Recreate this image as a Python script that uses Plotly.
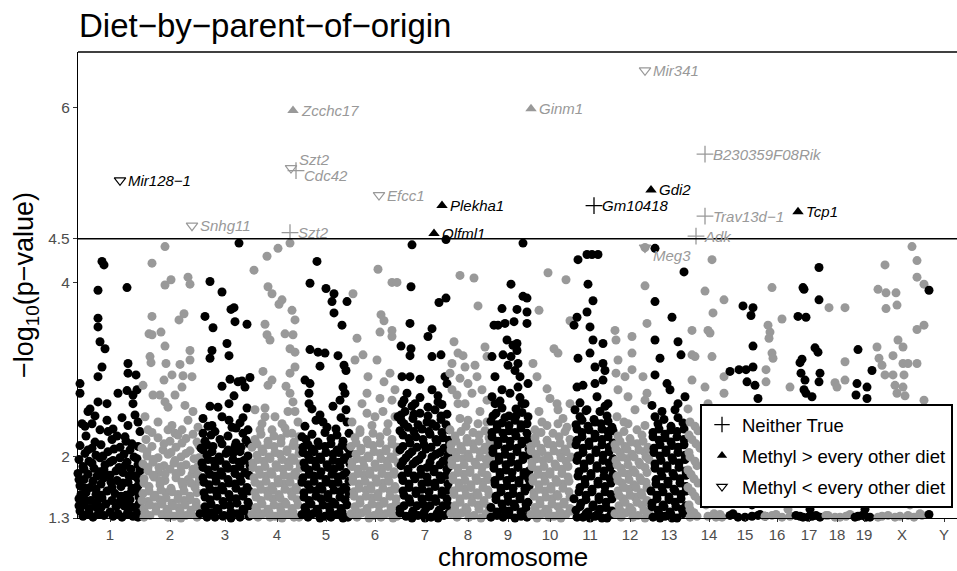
import plotly.graph_objects as go

# ---------------- data ----------------
chrom_labels = ["1", "2", "3", "4", "5", "6", "7", "8", "9", "10", "11", "12",
                "13", "14", "15", "16", "17", "18", "19", "X", "Y"]
# cumulative genome position (plot units) of each chromosome label
chrom_ticks = [110, 170, 225, 277, 326, 375, 425, 468, 508, 550, 590, 630,
               669, 709, 745, 777, 809, 837, 864, 902, 944]

# (position, -log10 p) for every gene, per chromosome
chr_1 = [(102,4.24),(104,4.20),(98,3.91),(127,3.94),(98,3.59),(98,3.49),(100,3.32),(105,3.24),(102,3.03),(98,2.92),
         (128,3.07),(128,2.96),(136,2.94),(80,2.84),(80,2.73),(118,2.73),(127,2.76),(133,2.71),(137,2.77),(98,2.63),
         (107,2.61),(133,2.61),(88,2.52),(82,2.38),(92,2.38),(107,2.42),(135,2.48),(138,2.40),(100,2.31),(108,2.29),
         (117,2.24),(125,2.23),(140,2.29),(132,2.15),
         (80,2.13),(92,2.10),(101,2.14),(120,2.11),(130,2.08),(138,2.12),(85,2.04),(96,2.02),(108,2.06),(124,2.03),
         (134,2.00),(79,1.97),(89,1.95),(100,1.99),(113,1.96),(127,1.94),(137,1.98),(83,1.89),(94,1.87),(105,1.91),
         (119,1.88),(131,1.86),(78,1.81),(88,1.80),(99,1.83),(110,1.79),(123,1.82),(135,1.78),(140,1.84),(84,1.74),
         (93,1.72),(104,1.76),(117,1.73),(128,1.71),(138,1.75),(80,1.67),(90,1.65),(101,1.69),(121,1.66),(132,1.64),
         (86,1.59),(96,1.57),(107,1.61),(115,1.58),(126,1.56),(137,1.60),(79,1.52),(91,1.50),(102,1.53),(120,1.49),
         (130,1.51),(139,1.54),(84,1.45),(95,1.43),(106,1.46),(124,1.44),(134,1.42),(80,1.38),(89,1.36),(99,1.39),
         (110,1.37),(118,1.35),(128,1.38),(138,1.36),(83,1.32),(93,1.31),(104,1.33),(122,1.31),(133,1.32),
         (86,2.24),(112,2.20),(95,2.17),(126,2.18),(88,2.08),(114,2.09),(103,2.01),(120,1.99),(92,1.93),(110,1.94),
         (125,1.90),(138,1.91),(84,1.86),(104,1.85),(116,1.84),(129,1.78),(97,1.78),(79,1.74),(111,1.71),(123,1.70),
         (85,1.64),(96,1.63),(112,1.65),(138,1.67),(81,1.57),(101,1.56),(121,1.55),(131,1.59),(86,1.50),(97,1.48),
         (112,1.50),(126,1.48),(79,1.44),(89,1.41),(101,1.42),(116,1.43),(129,1.45),(139,1.46),(87,1.34),(98,1.34),
         (113,1.32),(127,1.34),(138,1.31),(85,2.35),(113,2.32),(122,2.45),(90,2.55),(128,2.36),(95,2.47)]
chr_2 = [(165,4.41),(152,4.22),(165,3.97),(171,4.03),(188,4.06),(190,3.98),(152,3.61),(179,3.57),(184,3.64),(149,3.41),
         (152,3.40),(161,3.43),(165,3.27),(150,3.15),(151,3.08),(166,3.07),(180,3.06),(190,3.22),(190,3.11),(172,2.94),
         (164,2.88),(183,2.93),(192,2.92),(143,2.82),(153,2.71),(160,2.71),(175,2.71),(182,2.80),(165,2.63),(168,2.57),
         (185,2.59),(193,2.52),(198,2.34),(145,2.46),(148,2.31),(168,2.31),(175,2.27),(182,2.31),
         (146,2.20),(158,2.22),(170,2.18),(186,2.21),(197,2.17),(142,2.10),(152,2.12),(163,2.08),(176,2.11),(190,2.07),
         (199,2.13),(147,2.01),(158,1.99),(168,2.03),(181,2.00),(194,1.98),(143,1.92),(153,1.94),(164,1.90),(174,1.93),
         (186,1.91),(198,1.89),(148,1.84),(159,1.82),(170,1.86),(181,1.83),(192,1.80),(144,1.75),(154,1.77),(165,1.73),
         (176,1.76),(188,1.74),(199,1.72),(149,1.66),(160,1.68),(171,1.64),(183,1.67),(195,1.65),(143,1.58),(155,1.56),
         (166,1.59),(178,1.57),(190,1.55),(148,1.49),(160,1.51),(172,1.47),(184,1.50),(196,1.48),(144,1.41),(156,1.43),
         (167,1.40),(179,1.42),(191,1.39),(199,1.41),(150,1.33),(162,1.34),(174,1.32),(186,1.33),(197,1.31),
         (152,2.28),(178,2.25),(193,2.26),(164,2.15),(182,2.16),(147,2.06),(171,2.05),(186,2.04),(153,1.97),(175,1.96),
         (199,1.99),(148,1.88),(159,1.88),(181,1.89),(193,1.86),(153,1.79),(165,1.80),(176,1.81),(198,1.79),(144,1.70),
         (160,1.72),(182,1.71),(191,1.70),(149,1.61),(161,1.62),(172,1.60),(184,1.61),(197,1.59),(154,1.54),(166,1.53),
         (178,1.52),(190,1.51),(142,1.50),(150,1.45),(162,1.46),(173,1.44),(185,1.45),(196,1.43),(145,1.36),(156,1.38),
         (168,1.37),(180,1.38),(191,1.35),(144,1.31),(168,1.31),(181,1.30),(158,2.40),(188,2.42),(172,2.36)]
chr_3 = [(239,4.45),(210,4.01),(222,3.89),(231,3.69),(234,3.71),(205,3.61),(213,3.48),(235,3.55),(247,3.52),(212,3.22),
         (210,3.13),(227,3.30),(229,3.16),(222,2.81),(230,2.89),(238,2.86),(242,2.87),(250,2.91),(234,2.70),(245,2.80),
         (229,2.61),(210,2.58),(218,2.57),(247,2.56),(203,2.44),(212,2.36),(222,2.46),(229,2.42),(232,2.34),(240,2.39),
         (248,2.31),(203,2.27),(215,2.29),(203,2.08),
         (205,2.18),(220,2.20),(236,2.16),(246,2.19),(201,2.10),(213,2.12),(228,2.08),(241,2.11),(207,2.02),(219,2.00),
         (233,2.04),(248,2.01),(202,1.93),(214,1.95),(226,1.91),(239,1.94),(250,1.90),(208,1.85),(221,1.83),(234,1.86),
         (245,1.82),(203,1.76),(215,1.78),(228,1.74),(240,1.77),(209,1.68),(222,1.66),(235,1.69),(247,1.65),(204,1.59),
         (216,1.61),(229,1.57),(242,1.60),(210,1.51),(223,1.49),(236,1.52),(248,1.48),(205,1.43),(217,1.41),(230,1.44),
         (243,1.40),(200,1.35),(212,1.36),(224,1.33),(237,1.35),(249,1.32),(215,1.31),(231,1.30),
         (211,2.25),(228,2.24),(243,2.27),(207,2.14),(222,2.15),(235,2.12),(249,2.15),(212,2.06),(226,2.04),(240,2.06),
         (208,1.97),(220,1.96),(233,1.97),(244,1.96),(203,1.88),(215,1.89),(228,1.87),(240,1.89),(210,1.80),(222,1.79),
         (235,1.81),(249,1.79),(204,1.71),(216,1.72),(229,1.70),(241,1.72),(210,1.63),(223,1.62),(236,1.64),(249,1.61),
         (205,1.54),(217,1.55),(230,1.53),(243,1.55),(211,1.46),(224,1.45),(237,1.47),(249,1.44),(206,1.38),(218,1.39),
         (231,1.37),(244,1.38),(207,1.31),(223,1.32),(240,1.31),(208,2.35),(236,2.33),(243,2.45)]
chr_4 = [(290,4.45),(278,4.39),(267,4.30),(254,4.14),(268,3.95),(272,3.87),(282,3.80),(279,3.75),(292,3.68),(295,3.57),
         (265,3.52),(267,3.40),(270,3.34),(285,3.41),(293,3.40),(290,3.24),(295,3.20),(295,3.03),(290,2.96),(263,2.98),
         (268,2.82),(272,2.88),(286,2.81),(290,2.73),(293,2.63),(255,2.54),(265,2.56),(265,2.46),(275,2.46),(288,2.52),
         (295,2.52),(260,2.31),(272,2.31),(282,2.38),(292,2.27),
         (255,2.20),(268,2.18),(281,2.21),(294,2.17),(252,2.11),(262,2.09),(274,2.12),(287,2.08),(299,2.10),(257,2.02),
         (269,2.00),(280,2.03),(292,1.99),(253,1.93),(264,1.95),(276,1.91),(288,1.94),(300,1.92),(259,1.85),(271,1.83),
         (283,1.86),(295,1.82),(254,1.76),(266,1.78),(278,1.74),(290,1.77),(301,1.75),(260,1.68),(272,1.66),(284,1.69),
         (296,1.65),(255,1.59),(267,1.61),(279,1.57),(291,1.60),(261,1.50),(273,1.52),(285,1.48),(297,1.51),(256,1.42),
         (268,1.40),(280,1.43),(292,1.41),(252,1.34),(263,1.35),(275,1.32),(287,1.34),(299,1.31),
         (261,2.26),(274,2.24),(287,2.27),(299,2.23),(257,2.15),(268,2.14),(281,2.16),(293,2.13),(263,2.06),(275,2.05),
         (287,2.06),(299,2.04),(258,1.97),(270,1.98),(282,1.97),(294,1.96),(253,1.88),(265,1.89),(277,1.88),(289,1.89),
         (300,1.87),(260,1.80),(272,1.80),(284,1.79),(296,1.79),(255,1.71),(266,1.72),(278,1.70),(290,1.71),(261,1.63),
         (273,1.62),(285,1.63),(297,1.62),(256,1.54),(268,1.55),(280,1.53),(292,1.55),(262,1.46),(274,1.45),(286,1.46),
         (298,1.45),(257,1.38),(269,1.37),(281,1.38),(293,1.37),(258,1.31),(270,1.31),(282,1.30),(294,1.31),(262,2.38),
         (285,2.33),(298,2.40)]
chr_5 = [(317,4.24),(310,3.99),(326,3.93),(334,3.87),(332,3.78),(334,3.65),(347,3.78),(342,3.51),(310,3.23),(318,3.20),
         (325,3.19),(320,3.04),(338,3.16),(344,3.05),(346,2.99),(305,2.88),(310,2.84),(309,2.73),(309,2.61),(343,2.80),
         (345,2.73),(340,2.65),(346,2.54),(347,2.40),(320,2.48),(323,2.40),(327,2.34),(302,2.23),
         (306,2.20),(318,2.17),(331,2.21),(343,2.18),(303,2.11),(312,2.09),(325,2.12),(337,2.08),(348,2.10),(308,2.02),
         (320,2.00),(333,2.03),(345,1.99),(304,1.93),(315,1.95),(327,1.91),(339,1.94),(350,1.92),(309,1.85),(321,1.83),
         (334,1.86),(346,1.82),(303,1.76),(314,1.78),(326,1.74),(338,1.77),(308,1.68),(320,1.66),(332,1.69),(344,1.65),
         (304,1.59),(316,1.61),(328,1.57),(340,1.60),(349,1.58),(309,1.50),(321,1.52),(333,1.48),(345,1.51),(305,1.42),
         (317,1.40),(329,1.43),(341,1.41),(302,1.34),(313,1.35),(325,1.32),(337,1.34),(348,1.31),
         (312,2.26),(325,2.28),(337,2.25),(349,2.27),(308,2.14),(319,2.13),(331,2.15),(342,2.13),(303,2.05),(314,2.06),
         (326,2.05),(339,2.05),(350,2.04),(310,1.97),(321,1.97),(333,1.96),(344,1.97),(305,1.88),(316,1.89),(328,1.88),
         (340,1.89),(309,1.80),(320,1.79),(332,1.80),(343,1.79),(302,1.71),(314,1.72),(326,1.71),(338,1.71),(349,1.72),
         (310,1.63),(322,1.63),(334,1.62),(346,1.63),(304,1.54),(316,1.55),(328,1.53),(340,1.54),(311,1.46),(323,1.45),
         (335,1.46),(347,1.45),(306,1.38),(318,1.37),(330,1.38),(342,1.37),(308,1.31),(320,1.30),(331,1.31),(343,1.30),
         (305,2.35),(316,2.42),(336,2.32),(341,2.45),(312,2.55),(333,2.58)]
chr_6 = [(378,4.15),(392,4.00),(397,4.00),(353,3.87),(381,3.63),(384,3.56),(380,3.43),(392,3.45),(392,3.38),(357,3.36),
         (363,3.17),(355,3.11),(377,3.11),(390,2.96),(368,2.92),(384,2.86),(395,2.77),(367,2.73),(362,2.61),(380,2.67),
         (392,2.65),(367,2.50),(375,2.46),(383,2.52),(395,2.46),(360,2.31),
         (355,2.22),(367,2.19),(380,2.23),(392,2.20),(351,2.12),(361,2.10),(373,2.13),(386,2.09),(397,2.11),(356,2.03),
         (368,2.01),(380,2.04),(391,2.00),(352,1.94),(363,1.96),(375,1.92),(387,1.95),(398,1.93),(358,1.86),(370,1.84),
         (382,1.87),(394,1.83),(353,1.77),(364,1.79),(376,1.75),(388,1.78),(359,1.69),(371,1.67),(383,1.70),(395,1.66),
         (354,1.60),(366,1.62),(378,1.58),(390,1.61),(360,1.51),(372,1.53),(384,1.49),(396,1.52),(355,1.43),(367,1.41),
         (379,1.44),(391,1.42),(351,1.35),(362,1.36),(374,1.33),(386,1.35),(397,1.32),
         (360,2.28),(373,2.27),(387,2.29),(356,2.16),(368,2.15),(380,2.16),(392,2.15),(361,2.07),(374,2.06),(386,2.07),
         (397,2.06),(357,1.98),(369,1.99),(381,1.98),(393,1.98),(352,1.89),(364,1.89),(376,1.88),(388,1.89),(358,1.81),
         (370,1.80),(382,1.81),(394,1.80),(353,1.72),(365,1.72),(377,1.71),(389,1.72),(359,1.64),(371,1.63),(383,1.64),
         (395,1.63),(354,1.55),(366,1.55),(378,1.54),(390,1.55),(360,1.47),(372,1.46),(384,1.47),(396,1.46),(356,1.38),
         (367,1.38),(379,1.37),(391,1.38),(357,1.31),(369,1.30),(381,1.31),(393,1.30),(352,2.40),(372,2.36),(388,2.38)]
chr_7 = [(412,4.43),(446,4.49),(411,3.95),(439,3.77),(446,3.82),(410,3.53),(432,3.47),(428,3.38),(401,3.27),(410,3.16),
         (432,3.15),(441,3.17),(411,3.24),(402,2.92),(410,2.92),(420,2.89),(445,2.92),(432,2.77),(407,2.73),(402,2.61),
         (415,2.61),(438,2.63),(447,2.84),(398,2.46),
         (405,2.52),(420,2.50),(435,2.54),(447,2.49),(401,2.42),(413,2.44),(427,2.40),(441,2.43),(408,2.34),(422,2.32),
         (436,2.35),(449,2.31),(403,2.25),(416,2.23),(430,2.26),(443,2.22),(410,2.16),(424,2.14),(437,2.17),(449,2.13),
         (400,2.08),(412,2.06),(426,2.09),(440,2.05),(406,1.99),(419,1.97),(432,2.00),(445,1.96),(401,1.90),(413,1.92),
         (427,1.88),(440,1.91),(449,1.89),(408,1.82),(421,1.80),(434,1.83),(446,1.79),(403,1.73),(415,1.75),(428,1.71),
         (441,1.74),(409,1.65),(422,1.63),(435,1.66),(448,1.62),(404,1.56),(416,1.58),(429,1.54),(442,1.57),(410,1.48),
         (423,1.46),(436,1.49),(448,1.45),(400,1.40),(413,1.38),(426,1.41),(439,1.39),(406,1.32),(418,1.33),(431,1.31),
         (444,1.33),
         (412,2.58),(428,2.57),(442,2.60),(401,2.48),(414,2.49),(428,2.47),(441,2.47),(404,2.38),(418,2.37),(432,2.38),
         (446,2.37),(400,2.30),(414,2.29),(429,2.29),(442,2.28),(409,2.21),(423,2.20),(436,2.20),(449,2.19),(403,2.12),
         (417,2.11),(431,2.11),(444,2.10),(409,2.03),(422,2.02),(436,2.03),(448,2.02),(403,1.95),(416,1.95),(430,1.94),
         (443,1.95),(408,1.86),(421,1.86),(434,1.86),(447,1.86),(402,1.78),(414,1.78),(427,1.77),(440,1.78),(409,1.69),
         (422,1.69),(435,1.70),(448,1.69),(403,1.61),(416,1.61),(429,1.60),(442,1.61),(409,1.52),(422,1.52),(435,1.52),
         (447,1.52),(404,1.44),(417,1.44),(430,1.44),(443,1.44),(400,1.36),(412,1.35),(424,1.36),(437,1.35),(449,1.36),
         (412,1.30),(425,1.30),(438,1.30),(420,2.68),(438,2.70),(404,2.65)]
chr_8 = [(460,4.08),(474,4.05),(478,3.73),(454,3.32),(458,3.19),(463,3.16),(452,3.07),(465,3.03),(475,3.05),(487,3.15),
         (485,3.26),(450,2.96),(460,2.90),(468,2.84),(477,2.92),(452,2.77),(457,2.71),(472,2.73),(482,2.77),(458,2.61),
         (465,2.61),(487,2.65),(460,2.44),(468,2.42),(480,2.52),(487,2.40),(450,2.31),
         (455,2.24),(467,2.21),(479,2.25),(489,2.22),(451,2.14),(461,2.12),(473,2.15),(485,2.11),(456,2.05),(468,2.03),
         (480,2.06),(490,2.02),(452,1.96),(463,1.98),(475,1.94),(486,1.97),(458,1.87),(470,1.85),(482,1.88),(453,1.78),
         (464,1.80),(476,1.76),(487,1.79),(459,1.70),(471,1.68),(483,1.71),(454,1.61),(465,1.63),(477,1.59),(488,1.62),
         (460,1.52),(472,1.54),(484,1.50),(455,1.44),(466,1.42),(478,1.45),(489,1.43),(451,1.35),(462,1.36),(474,1.33),
         (486,1.35),
         (461,2.29),(473,2.28),(485,2.30),(456,2.18),(467,2.17),(479,2.18),(490,2.17),(451,2.08),(462,2.08),(474,2.09),
         (485,2.08),(457,1.99),(469,1.99),(480,2.00),(490,1.99),(452,1.91),(464,1.91),(476,1.91),(487,1.92),(458,1.82),
         (470,1.82),(482,1.82),(453,1.74),(465,1.73),(477,1.73),(488,1.74),(459,1.65),(471,1.65),(483,1.65),(454,1.57),
         (466,1.56),(478,1.56),(489,1.57),(460,1.48),(472,1.48),(484,1.47),(455,1.39),(467,1.39),(479,1.40),(490,1.39),
         (457,1.31),(469,1.31),(481,1.30),(466,2.35),(478,2.38)]
chr_9 = [(511,3.98),(523,4.45),(502,3.70),(517,3.69),(523,3.84),(494,3.51),(498,3.51),(505,3.53),(514,3.55),(507,3.34),
         (513,3.28),(517,3.22),(492,3.15),(503,3.17),(511,3.15),(518,3.07),(515,2.99),(495,2.92),(508,3.05),(502,2.77),
         (510,2.73),(518,2.80),(492,2.69),(495,2.61),(522,2.61),(527,3.82),(527,3.66),(527,3.53),(517,3.30),(520,2.92),
         (528,2.84),(525,2.61),
         (496,2.50),(509,2.47),(522,2.51),(491,2.41),(502,2.39),(515,2.42),(527,2.38),(497,2.32),(509,2.30),(521,2.33),
         (492,2.23),(504,2.21),(516,2.24),(528,2.20),(498,2.14),(510,2.12),(522,2.15),(493,2.05),(505,2.03),(517,2.06),
         (529,2.02),(499,1.96),(511,1.94),(523,1.97),(494,1.87),(506,1.85),(518,1.88),(529,1.84),(500,1.78),(512,1.76),
         (524,1.79),(495,1.69),(507,1.67),(519,1.70),(529,1.66),(501,1.60),(513,1.58),(525,1.61),(496,1.51),(508,1.49),
         (520,1.52),(528,1.48),(491,1.42),(503,1.40),(515,1.43),(526,1.41),(497,1.33),(509,1.34),(521,1.32),
         (502,2.56),(516,2.55),(493,2.47),(505,2.45),(516,2.47),(528,2.46),(497,2.37),(509,2.36),(521,2.37),(492,2.28),
         (503,2.27),(515,2.28),(527,2.27),(498,2.18),(510,2.18),(522,2.18),(493,2.09),(505,2.09),(517,2.10),(529,2.09),
         (499,2.00),(511,2.00),(523,2.01),(494,1.91),(506,1.91),(518,1.92),(500,1.82),(512,1.82),(524,1.82),(495,1.73),
         (507,1.73),(519,1.73),(529,1.74),(501,1.64),(513,1.64),(525,1.64),(496,1.55),(508,1.55),(520,1.55),(502,1.46),
         (514,1.46),(526,1.46),(497,1.37),(509,1.38),(521,1.37),(491,1.31),(503,1.31),(515,1.30),(527,1.31),(500,2.64),
         (520,2.68)]
chr_10 = [(548,4.11),(566,4.03),(539,3.68),(570,3.56),(554,3.24),(558,3.19),(533,3.07),(537,2.92),(547,2.78),(550,2.67),
          (557,2.61),(539,2.52),(558,2.54),(570,2.61),(547,2.36),(558,2.38),(567,2.34),(535,2.31),
          (535,2.22),(547,2.19),(559,2.23),(570,2.20),(531,2.12),(541,2.10),(553,2.13),(565,2.09),(536,2.03),(548,2.01),
          (560,2.04),(571,2.00),(532,1.94),(543,1.96),(555,1.92),(566,1.95),(538,1.85),(550,1.83),(562,1.86),(533,1.76),
          (544,1.78),(556,1.74),(568,1.77),(539,1.68),(551,1.66),(563,1.69),(534,1.59),(545,1.61),(557,1.57),(569,1.60),
          (540,1.50),(552,1.52),(564,1.48),(535,1.42),(546,1.40),(558,1.43),(570,1.41),(531,1.34),(542,1.35),(554,1.32),
          (566,1.34),
          (541,2.28),(553,2.27),(565,2.29),(536,2.16),(548,2.15),(560,2.16),(571,2.15),(531,2.07),(542,2.06),(554,2.07),
          (566,2.06),(537,1.98),(549,1.98),(561,1.99),(532,1.89),(544,1.89),(556,1.89),(568,1.89),(538,1.80),(550,1.80),
          (562,1.81),(533,1.72),(545,1.72),(557,1.71),(569,1.72),(539,1.63),(551,1.63),(563,1.64),(534,1.55),(546,1.54),
          (558,1.55),(570,1.54),(540,1.46),(552,1.46),(564,1.46),(536,1.37),(548,1.38),(560,1.37),(571,1.38),(537,1.30),
          (549,1.31),(561,1.30),(542,2.40),(563,2.44)]
chr_11 = [(587,4.32),(592,4.32),(598,4.32),(578,4.26),(588,3.98),(577,3.60),(574,3.51),(587,3.66),(593,3.79),(590,3.49),
          (593,3.34),(603,3.30),(578,3.13),(590,3.19),(595,3.03),(603,3.07),(605,2.99),(577,2.80),(583,2.82),(595,2.84),
          (603,2.88),(575,2.54),(587,2.54),(597,2.69),(608,2.61),
          (580,2.46),(594,2.43),(607,2.47),(576,2.37),(588,2.35),(601,2.38),(612,2.34),(582,2.28),(595,2.26),(608,2.29),
          (577,2.19),(589,2.17),(602,2.20),(613,2.16),(583,2.10),(596,2.08),(609,2.11),(578,2.01),(590,1.99),(603,2.02),
          (613,1.98),(584,1.92),(597,1.90),(609,1.93),(579,1.83),(591,1.81),(604,1.84),(613,1.80),(585,1.74),(598,1.72),
          (610,1.75),(580,1.65),(592,1.63),(605,1.66),(586,1.56),(599,1.54),(611,1.57),(581,1.47),(593,1.45),(606,1.48),
          (576,1.39),(588,1.37),(600,1.40),(612,1.38),(583,1.31),(595,1.32),(607,1.30),
          (586,2.53),(600,2.52),(582,2.42),(595,2.40),(608,2.41),(577,2.32),(589,2.31),(602,2.32),(613,2.30),(582,2.23),
          (595,2.22),(608,2.23),(576,2.14),(589,2.13),(602,2.14),(613,2.13),(583,2.05),(596,2.05),(609,2.06),(577,1.96),
          (590,1.96),(603,1.96),(584,1.87),(597,1.87),(610,1.88),(578,1.78),(591,1.78),(604,1.78),(585,1.69),(598,1.69),
          (611,1.70),(579,1.60),(592,1.60),(605,1.60),(574,1.52),(586,1.51),(599,1.51),(612,1.52),(580,1.43),(593,1.43),
          (606,1.42),(586,1.35),(598,1.35),(611,1.34),(577,1.31),(590,1.30),(602,1.30),(580,2.62),(605,2.58)]
chr_12 = [(645,4.40),(645,3.96),(647,3.53),(615,3.45),(616,3.34),(632,3.38),(632,3.19),(618,3.11),(632,3.00),(616,2.96),
          (625,2.92),(643,2.92),(647,2.73),(645,2.65),(618,2.77),(628,2.69),(617,2.46),(628,2.38),(635,2.54),
          (618,2.24),(630,2.21),(642,2.25),(615,2.14),(625,2.12),(637,2.15),(648,2.11),(620,2.05),(632,2.03),(644,2.06),
          (616,1.96),(627,1.98),(639,1.94),(649,1.97),(621,1.87),(633,1.85),(645,1.88),(617,1.78),(628,1.80),(640,1.76),
          (622,1.70),(634,1.68),(646,1.71),(618,1.61),(629,1.63),(641,1.59),(623,1.52),(635,1.54),(647,1.50),(619,1.44),
          (630,1.42),(642,1.45),(615,1.35),(626,1.36),(638,1.33),(649,1.35),
          (624,2.29),(637,2.31),(620,2.18),(631,2.17),(643,2.18),(616,2.09),(627,2.09),(639,2.08),(649,2.09),(622,2.00),
          (634,2.00),(646,2.00),(617,1.91),(628,1.91),(640,1.91),(623,1.82),(635,1.82),(647,1.82),(618,1.73),(629,1.74),
          (641,1.73),(624,1.65),(636,1.65),(647,1.65),(619,1.56),(630,1.56),(642,1.56),(625,1.48),(637,1.48),(648,1.48),
          (620,1.39),(632,1.39),(644,1.39),(621,1.31),(633,1.31),(645,1.30),(624,2.40),(645,2.36)]
chr_13 = [(655,4.39),(684,4.12),(655,3.78),(672,3.60),(655,3.34),(678,3.32),(660,3.13),(681,3.17),(655,2.94),(667,2.84),
          (670,2.77),(685,2.69),(678,2.61),(652,2.59),(662,2.52),(675,2.54),(655,2.46),
          (658,2.38),(671,2.35),(683,2.39),(653,2.28),(665,2.26),(677,2.29),(659,2.19),(671,2.17),(684,2.20),(654,2.10),
          (666,2.08),(678,2.11),(660,2.01),(672,1.99),(685,2.02),(655,1.92),(667,1.90),(679,1.93),(661,1.83),(673,1.81),
          (686,1.84),(656,1.74),(668,1.72),(680,1.75),(662,1.65),(674,1.63),(686,1.66),(657,1.56),(669,1.54),(681,1.57),
          (652,1.47),(663,1.45),(675,1.48),(658,1.39),(670,1.37),(682,1.40),(653,1.31),(665,1.32),(677,1.30),
          (664,2.43),(678,2.45),(659,2.32),(671,2.31),(684,2.32),(653,2.23),(665,2.22),(677,2.23),(660,2.14),(672,2.13),
          (684,2.14),(654,2.05),(666,2.05),(678,2.05),(661,1.96),(673,1.96),(685,1.97),(655,1.87),(667,1.87),(679,1.88),
          (662,1.78),(674,1.78),(686,1.79),(656,1.69),(668,1.69),(680,1.70),(651,1.61),(663,1.60),(675,1.61),(686,1.61),
          (657,1.52),(669,1.51),(681,1.52),(652,1.43),(664,1.43),(676,1.43),(686,1.44),(659,1.35),(671,1.34),(683,1.35),
          (660,1.30),(672,1.30)]
chr_14 = [(712,4.26),(705,3.90),(724,3.80),(713,3.65),(692,3.45),(708,3.45),(710,3.42),(692,3.17),(695,3.15),(712,3.15),
          (692,2.88),(705,2.80),(724,2.92),(724,2.73),(708,2.61),
          (690,2.40),(698,2.30),(692,2.20),(700,2.10),(690,2.00),(697,1.90),(691,1.80),(698,1.70),(692,1.60),(699,1.50),
          (690,1.40),(697,1.32),(705,2.20),(712,2.05),(720,1.95),(708,1.85),(716,1.70),(722,1.55),(706,1.45),(714,1.35),
          (722,1.31),(688,2.55),(695,2.35),(689,2.25),(696,2.15),(689,2.05),(695,1.95),(688,1.85),(694,1.75),(688,1.65),
          (695,1.55),(689,1.45),(694,1.36),(690,1.31),(708,1.32),(716,1.31),(720,1.34)]
chr_15 = [(743,3.73),(753,3.71),(751,3.62),(753,3.27),(730,2.98),(739,3.00),(746,3.00),(753,3.03),(747,2.86),(755,2.82),
          (758,2.67),(735,2.20),(748,2.00),(760,1.80),(740,1.60),(752,1.45),(733,1.35),(745,1.31),(758,1.33),(765,1.32),
          (730,1.33),(738,1.31),(752,1.32),(760,1.34)]
chr_16 = [(772,3.94),(782,3.58),(768,3.51),(770,3.43),(769,3.36),(772,3.19),(773,3.13),(766,3.00),(766,2.86),(790,2.80),
          (775,2.20),(785,1.90),(778,1.60),(788,1.40),(772,1.33),(782,1.31),(765,1.32),(776,1.34),(790,1.32)]
chr_17 = [(819,4.17),(803,3.94),(804,3.92),(819,3.80),(798,3.61),(806,3.60),(815,3.25),(818,3.20),(802,3.12),(800,3.08),
          (801,2.96),(820,2.96),(805,2.88),(819,2.86),(804,2.77),(806,2.73),(812,2.69),
          (800,2.30),(812,2.10),(805,1.90),(818,1.70),(798,1.50),(810,1.40),(800,1.32),(808,1.31),(816,1.33),
          (796,1.33),(803,1.31),(812,1.32),(820,1.31)]
chr_18 = [(829,3.71),(845,3.71),(845,3.09),(835,2.85),(837,2.80),(845,2.88),
          (830,2.30),(842,2.00),(835,1.70),(848,1.50),(828,1.33),(840,1.31),(850,1.34),(826,1.33),(835,1.31),(846,1.32)]
chr_19 = [(858,3.23),(872,2.99),(857,2.84),(867,2.80),(856,2.71),(867,2.67),
          (860,2.20),(868,1.90),(858,1.60),(865,1.40),(858,1.32),(866,1.31),(855,1.31),(862,1.33),(870,1.31)]
chr_X = [(885,4.20),(912,4.41),(917,4.25),(878,3.92),(886,3.88),(896,3.88),(886,3.70),(897,3.74),(917,4.06),(924,3.98),
         (924,3.51),(917,3.46),(877,3.26),(898,3.34),(903,3.26),(893,3.16),(879,3.13),(882,3.05),(903,3.07),(908,3.07),
         (917,3.07),(885,2.94),(893,2.94),(904,2.94),(895,2.82),(903,2.80),(897,2.73),(905,2.70),(924,2.65),
         (880,2.30),(892,2.10),(905,2.00),(915,1.80),(885,1.70),(898,1.55),(910,1.45),(920,1.35),(882,1.32),(895,1.31),
         (908,1.33),(878,1.31),(888,1.33),(900,1.32),(914,1.31),(922,1.33)]
chr_Y = [(929,3.91),(929,1.34)]

chrom_points = [chr_1, chr_2, chr_3, chr_4, chr_5, chr_6, chr_7, chr_8, chr_9, chr_10, chr_11,
                chr_12, chr_13, chr_14, chr_15, chr_16, chr_17, chr_18, chr_19, chr_X, chr_Y]

# significant, labelled genes
genes = ["Mir128\u22121", "Snhg11", "Zcchc17", "Szt2", "Cdc42", "Szt2", "Efcc1", "Olfml1", "Plekha1",
         "Ginm1", "Gm10418", "Mir341", "Gdi2", "Meg3", "Adk", "B230359F08Rik", "Trav13d\u22121", "Tcp1"]
gene_chrom = [1, 2, 4, 4, 4, 4, 6, 7, 7, 10, 11, 12, 13, 12, 14, 14, 14, 17]
gene_pos = [120, 192, 293, 291, 296, 290, 379, 434, 442, 531, 594, 645, 651, 645, 696, 705, 705, 798]
gene_logp = [5.17, 4.65, 5.97, 5.31, 5.28, 4.57, 5.00, 4.56, 4.88, 5.99, 4.88, 6.43, 5.06, 4.40, 4.53, 5.47, 4.76, 4.81]
gene_dir = ["less", "less", "greater", "less", "neither", "neither", "less", "greater", "greater",
            "greater", "neither", "less", "greater", "less", "neither", "neither", "neither", "greater"]
threshold = 4.5

# ---------------- styling ----------------
BLACK = "#000000"
GREY = "#999999"
FONT = "Liberation Sans, Arial, sans-serif"
label_nudge = {3: (6, 9), 4: (6, -5), 13: (6, -8)}
dir_names = {"neither": "Neither True", "greater": "Methyl > every other diet",
             "less": "Methyl < every other diet"}
dir_symbol = {"neither": "cross-thin-open", "greater": "triangle-up", "less": "triangle-down-open"}
dir_size = {"neither": 12, "greater": 10, "less": 10}
dir_lw = {"neither": 1.3, "greater": 0, "less": 1.2}


def chrom_color(i):
    return BLACK if i % 2 == 0 else GREY


fig = go.Figure()

for i, pts in enumerate(chrom_points):
    fig.add_trace(go.Scatter(
        x=[p[0] for p in pts], y=[p[1] for p in pts], mode="markers",
        marker=dict(size=9, color=chrom_color(i), line=dict(width=0)),
        showlegend=False, hoverinfo="skip", cliponaxis=False))

for d in ["neither", "greater", "less"]:
    idx = [k for k in range(len(genes)) if gene_dir[k] == d]
    cols = [chrom_color(gene_chrom[k] - 1) for k in idx]
    syms = [dir_symbol[d] if genes[k] != "Meg3" else "triangle-down" for k in idx]
    fig.add_trace(go.Scatter(
        x=[gene_pos[k] for k in idx], y=[gene_logp[k] for k in idx], mode="markers",
        marker=dict(size=dir_size[d], symbol=syms, color=cols,
                    line=dict(width=dir_lw[d], color=cols)),
        showlegend=False, hoverinfo="skip"))
    fig.add_trace(go.Scatter(
        x=[None], y=[None], mode="markers", name=dir_names[d], legendgroup=d,
        marker=dict(size=dir_size[d] - 1, symbol=dir_symbol[d], color=BLACK,
                    line=dict(width=dir_lw[d], color=BLACK))))

for k, g in enumerate(genes):
    xs, ys = label_nudge.get(k, (6, 0))
    fig.add_annotation(x=gene_pos[k], y=gene_logp[k], text=g, showarrow=False,
                       xanchor="left", yanchor="middle", xshift=xs, yshift=ys,
                       font=dict(family=FONT, size=15,
                                 color=chrom_color(gene_chrom[k] - 1), style="italic"))

# x-axis title
fig.add_annotation(x=(513 - 78) / 879, y=(518 - 557) / 466, xref="paper", yref="paper",
                   text="chromosome", showarrow=False, xanchor="center", yanchor="middle",
                   font=dict(family=FONT, size=26, color="black"))

fig.add_shape(type="line", xref="paper", x0=0, x1=1, yref="y", y0=threshold, y1=threshold,
              line=dict(color="black", width=1.5), layer="above")
fig.add_shape(type="line", xref="paper", x0=0, x1=1, yref="paper", y0=1, y1=1,
              line=dict(color="black", width=1.3), layer="above")

fig.update_layout(
    width=957, height=571,
    margin=dict(l=78, r=0, t=52, b=53, autoexpand=False),
    paper_bgcolor="white", plot_bgcolor="white",
    font=dict(family=FONT, color="black"),
    title=dict(text="Diet\u2212by\u2212parent\u2212of\u2212origin", x=79 / 957, xanchor="left",
               y=1 - 25 / 571, yanchor="middle", font=dict(size=33, color="black", family=FONT)),
    xaxis=dict(range=[78, 957], tickmode="array", tickvals=chrom_ticks, ticktext=chrom_labels,
               showgrid=False, zeroline=False, showline=True, linecolor="black", linewidth=1.3,
               ticks="outside", ticklen=3, tickwidth=1, tickcolor="#333333", automargin=False,
               tickfont=dict(size=15, color="#4d4d4d")),
    yaxis=dict(range=[1.3, 6.64], tickmode="array", tickvals=[1.3, 2, 4, 4.5, 6],
               ticktext=["1.3", "2", "4", "4.5", "6"],
               showgrid=False, zeroline=False, showline=True, linecolor="black", linewidth=1.3,
               ticks="outside", ticklen=4, tickwidth=1, tickcolor="#333333", automargin=False,
               tickfont=dict(size=15.5, color="#4d4d4d"),
               title=dict(text="\u2212log<sub>10</sub>(p\u2212value)", font=dict(size=27, color="black"),
                          standoff=6)),
    legend=dict(x=(700 - 78) / 879, y=(518 - 404) / 466, xanchor="left", yanchor="top",
                bgcolor="white", bordercolor="black", borderwidth=2, tracegroupgap=4,
                font=dict(size=18.5, color="black", family=FONT)),
    showlegend=True,
)

fig.write_html("out.html", config={"displayModeBar": False},
               post_script="document.body.style.margin='0';document.body.style.overflow='hidden';")
